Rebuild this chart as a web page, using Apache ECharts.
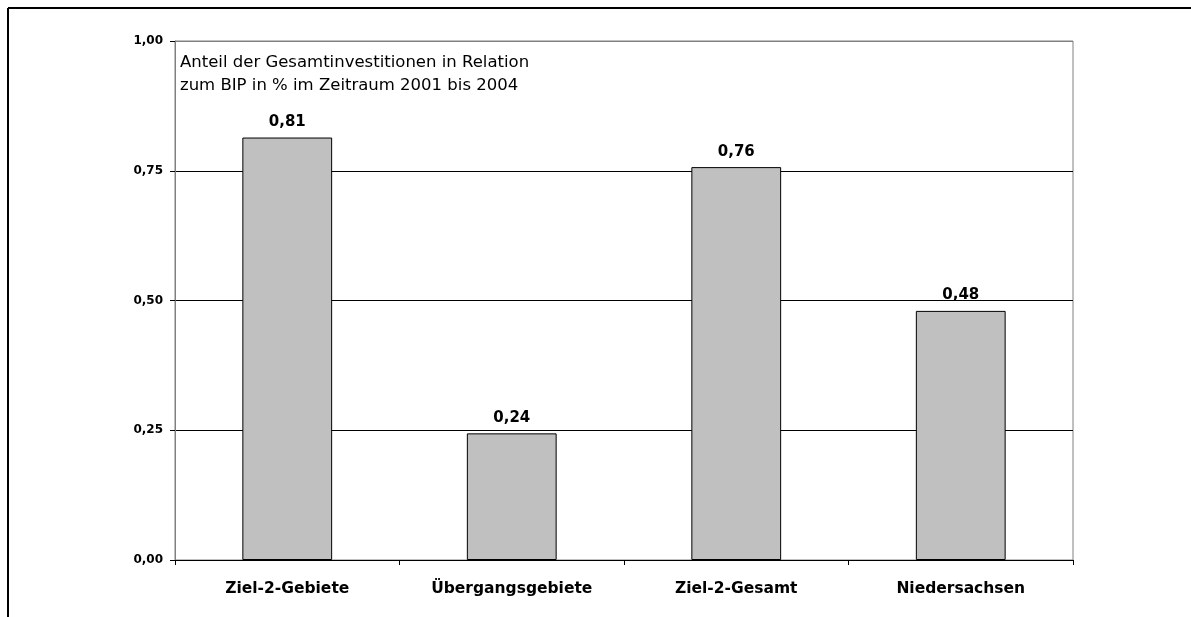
<!DOCTYPE html>
<html>
<head>
<meta charset="utf-8">
<script src="https://cdn.jsdelivr.net/npm/echarts@6/dist/echarts.min.js"></script>
<style>
html,body{margin:0;padding:0;background:#fff;}
#chart{width:1191px;height:617px;}
</style>
</head>
<body>
<div id="chart"></div>
<script>
const categories = ['Ziel-2-Gebiete', 'Übergangsgebiete', 'Ziel-2-Gesamt', 'Niedersachsen'];
const values = [0.814, 0.244, 0.757, 0.48];
const yTicks = [0, 0.25, 0.5, 0.75, 1.0];
const noteLines = ['Anteil der Gesamtinvestitionen in Relation', 'zum BIP in % im Zeitraum 2001 bis 2004'];

const FONT = '"DejaVu Sans", Verdana, sans-serif';
const fmt = v => Number(v).toFixed(2).replace('.', ',');

const chart = echarts.init(document.getElementById('chart'), null, {renderer: 'canvas'});
chart.setOption({
  animation: false,
  backgroundColor: '#ffffff',
  textStyle: {fontFamily: FONT},
  grid: {
    left: 175, right: 118, top: 41, bottom: 57,
    show: true, borderColor: '#808080', borderWidth: 1, backgroundColor: 'transparent'
  },
  graphic: [
    {type: 'line', shape: {x1: 8, y1: 8, x2: 1191, y2: 8}, style: {stroke: '#000', lineWidth: 2}},
    {type: 'line', shape: {x1: 8, y1: 8, x2: 8, y2: 617}, style: {stroke: '#000', lineWidth: 2}},
    {type: 'text', left: 180, top: 51, style: {
      text: noteLines.join('\n'), font: '16.5px ' + FONT,
      fill: '#000', lineHeight: 23
    }}
  ],
  xAxis: {
    type: 'category',
    data: categories,
    axisLine: {show: true, lineStyle: {color: '#000', width: 1}},
    axisTick: {show: true, length: 5, lineStyle: {color: '#000'}},
    axisLabel: {
      margin: 21, color: '#000', fontWeight: 'bold', fontSize: 15.5, fontFamily: FONT
    },
    splitLine: {show: false}
  },
  yAxis: {
    type: 'value',
    min: yTicks[0], max: yTicks[yTicks.length - 1], interval: 0.25,
    axisLine: {show: true, lineStyle: {color: '#808080', width: 1}},
    axisTick: {show: true, length: 5, inside: false, lineStyle: {color: '#000'}},
    axisLabel: {
      margin: 12, color: '#000', fontWeight: 'bold', fontSize: 12, fontFamily: FONT,
      formatter: v => fmt(v)
    },
    splitLine: {show: true, lineStyle: {color: ['#000', '#000', '#000', '#000', '#808080'], width: 1}}
  },
  series: [{
    type: 'bar',
    data: values,
    barWidth: '40%',
    itemStyle: {color: '#c0c0c0', borderColor: '#000', borderWidth: 1},
    label: {
      show: true, position: 'top', distance: 8,
      color: '#000', fontWeight: 'bold', fontSize: 15, fontFamily: FONT,
      formatter: p => fmt(p.value)
    }
  }]
});
</script>
</body>
</html>
